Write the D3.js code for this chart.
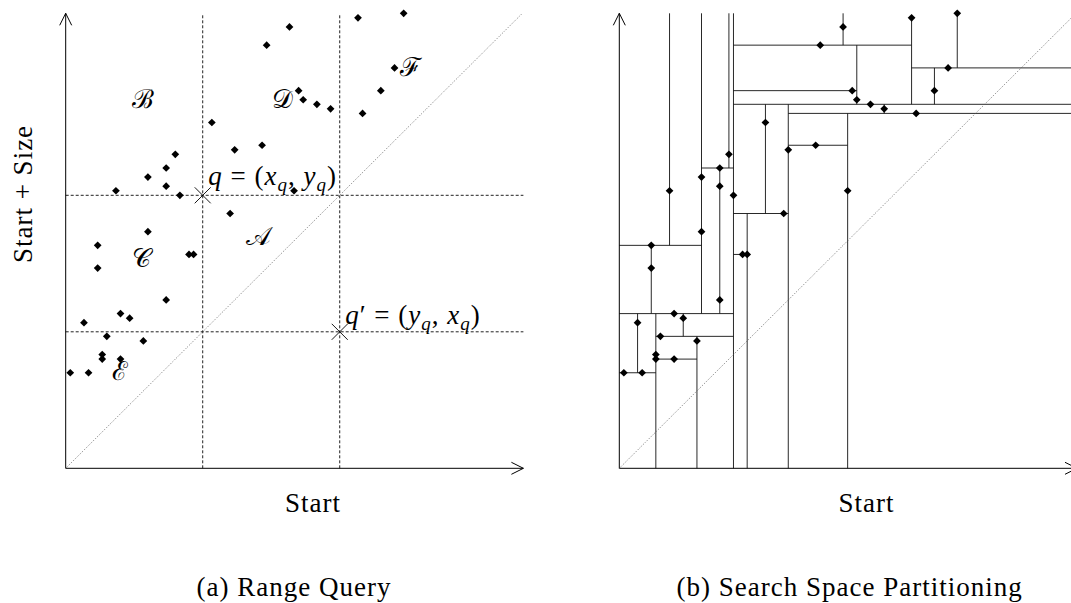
<!DOCTYPE html>
<html>
<head>
<meta charset="utf-8">
<script src="https://cdn.jsdelivr.net/npm/d3@7"></script>
<style>
  body { margin: 0; background: #fff; }
  svg text { font-family: "Liberation Serif", "DejaVu Serif", serif; fill: #000; }
</style>
</head>
<body>
<div id="chart"></div>
<script>
// intervals: Start and Start + Size
const starts = [6.4, 7.4, 4.9, 4.4, 7.2, 6.9, 6.5, 5.1, 5.2, 5.5, 5.8, 3.2, 3.7, 4.3, 2.4, 2.2, 1.8, 2.2, 1.1,
                2.5, 5.0, 3.6, 1.8, 0.7, 0.7, 2.7, 2.8, 2.2, 0.4, 1.2, 1.4, 0.9, 1.7, 0.8, 0.8, 1.2, 0.1, 0.5]
const ends = [9.9, 10.0, 9.7, 9.3, 8.8, 8.3, 7.8, 8.3, 8.1, 8.0, 7.9, 7.6, 7.0, 7.1, 6.9, 6.6, 6.4, 6.2, 6.1,
              6.0, 6.1, 5.6, 5.2, 4.9, 4.4, 4.7, 4.7, 3.7, 3.2, 3.4, 3.3, 2.9, 2.8, 2.5, 2.4, 2.4, 2.1, 2.1]

// query point q = (x_q, y_q)
const queryX = 3
const queryY = 6

// search space partitioning: [split value, from, to]
const verticalSplits = [
  [2.5, 0, 10], [1.1, 4.9, 10], [1.8, 3.4, 10], [0.7, 3.4, 4.9], [2.4, 6.6, 10], [2.2, 3.4, 6.6],
  [0.4, 2.1, 3.4], [0.8, 0, 3.4], [1.4, 2.9, 3.4], [1.7, 0, 2.9], [2.8, 0, 5.6], [3.2, 5.6, 8.0],
  [3.7, 0, 8.0], [5.0, 0, 7.8], [5.8, 7.8, 8.0], [4.9, 9.3, 10], [5.2, 8.0, 9.3], [6.4, 8.0, 9.9],
  [7.4, 8.8, 10], [6.9, 8.0, 8.8]
]
const horizontalSplits = [
  [3.4, 0, 2.5], [4.9, 0, 1.8], [6.6, 1.8, 2.5], [2.1, 0, 0.8], [2.9, 0.8, 2.5], [2.4, 0.8, 1.7],
  [4.7, 2.5, 2.8], [5.6, 2.5, 3.7], [8.0, 2.5, 10], [7.8, 3.7, 10], [7.1, 3.7, 5.0], [9.3, 2.5, 6.4],
  [8.3, 2.5, 5.2], [8.8, 6.4, 10]
]

const regionNames = ['𝒜', 'ℬ', '𝒞', '𝒟', 'ℰ', 'ℱ']

const points = starts.map((s, i) => ({ start: s, end: ends[i] }))

const width = 1071
const height = 603
const unit = 45.67

const svg = d3.select('#chart').append('svg')
  .attr('width', width)
  .attr('height', height)

const x = d3.scaleLinear().domain([0, 10]).range([65.7, 65.7 + 10 * unit])
const y = d3.scaleLinear().domain([0, 10]).range([468.3, 13.3])

const diamond = d3.symbol().type(d3.symbolSquare).size(30)

const drawAxes = g => {
  g.append('line')
    .attr('x1', x(0)).attr('y1', y(0)).attr('x2', x(10) + 1).attr('y2', y(0))
    .attr('stroke', '#000').attr('stroke-width', 1)
  g.append('path')
    .attr('d', `M${x(10) - 11},${y(0) - 6}L${x(10) + 1},${y(0)}L${x(10) - 11},${y(0) + 6}`)
    .attr('fill', 'none').attr('stroke', '#000').attr('stroke-width', 1)
  g.append('line')
    .attr('x1', x(0)).attr('y1', y(0)).attr('x2', x(0)).attr('y2', y(10))
    .attr('stroke', '#000').attr('stroke-width', 1)
  g.append('path')
    .attr('d', `M${x(0) - 6},${y(10) + 12}L${x(0)},${y(10)}L${x(0) + 6},${y(10) + 12}`)
    .attr('fill', 'none').attr('stroke', '#000').attr('stroke-width', 1)
  // Start = Start + Size
  g.append('line')
    .attr('x1', x(0)).attr('y1', y(0)).attr('x2', x(10)).attr('y2', y(10))
    .attr('stroke', '#555').attr('stroke-width', 0.8).attr('stroke-dasharray', '1,1.6')
}

const drawPoints = g => {
  g.selectAll('path.pt')
    .data(points)
    .enter()
    .append('path')
      .attr('class', 'pt')
      .attr('d', diamond)
      .attr('transform', d => `translate(${x(d.start)},${y(d.end)}) rotate(45)`)
      .attr('fill', '#000')
}

const addText = (g, str, px, py, size, anchor) => g.append('text')
  .attr('x', px).attr('y', py)
  .attr('text-anchor', anchor || 'middle')
  .style('font-size', size + 'px')
  .style('letter-spacing', '1px')
  .text(str)

const mathLabel = (g, px, py, parts) => {
  const t = g.append('text').attr('x', px).attr('y', py)
    .style('font-size', '27px')
    .style('letter-spacing', '1px')
  parts.forEach(p => {
    const s = t.append('tspan').text(p[0])
    if (p[1] === 'i') s.style('font-style', 'italic')
    if (p[1] === 'sub') s.style('font-style', 'italic').style('font-size', '19px').attr('dy', 6)
    if (p[1] === 'up') s.attr('dy', -6)
  })
  return t
}

// (a) Range Query
const left = svg.append('g')

left.selectAll('line.vq')
  .data([queryX, queryY])
  .enter()
  .append('line')
    .attr('x1', d => x(d)).attr('x2', d => x(d))
    .attr('y1', y(0)).attr('y2', y(10) + 1)
    .attr('stroke', '#222').attr('stroke-width', 1).attr('stroke-dasharray', '3,2')
left.selectAll('line.hq')
  .data([queryY, queryX])
  .enter()
  .append('line')
    .attr('y1', d => y(d)).attr('y2', d => y(d))
    .attr('x1', x(0)).attr('x2', x(10) + 1)
    .attr('stroke', '#222').attr('stroke-width', 1).attr('stroke-dasharray', '3,2')

drawAxes(left)
drawPoints(left)

left.selectAll('path.cross')
  .data([[queryX, queryY], [queryY, queryX]])
  .enter()
  .append('path')
    .attr('d', d => `M${x(d[0]) - 8},${y(d[1]) - 8}L${x(d[0]) + 8},${y(d[1]) + 8}M${x(d[0]) - 8},${y(d[1]) + 8}L${x(d[0]) + 8},${y(d[1]) - 8}`)
    .attr('stroke', '#000').attr('stroke-width', 0.9).attr('fill', 'none')

const regionAt = [[4.23, 4.9], [1.69, 7.92], [1.65, 4.42], [4.74, 7.92], [1.18, 1.94], [7.56, 8.62]]
left.selectAll('text.region')
  .data(regionNames)
  .enter()
  .append('text')
    .attr('class', 'region')
    .attr('x', (d, i) => x(regionAt[i][0]))
    .attr('y', (d, i) => y(regionAt[i][1]))
    .attr('text-anchor', 'middle')
    .style('font-size', '26px')
    .text(d => d)

mathLabel(left, x(3.12), y(6.22), [['q', 'i'], [' = (', ''], ['x', 'i'], ['q', 'sub'], [', ', 'up'], ['y', 'i'], ['q', 'sub'], [')', 'up']])
mathLabel(left, x(6.12), y(3.17), [['q', 'i'], ['′ = (', ''], ['y', 'i'], ['q', 'sub'], [', ', 'up'], ['x', 'i'], ['q', 'sub'], [')', 'up']])

addText(left, 'Start', 313, 512, 27)
addText(left, 'Start + Size', 0, 0, 27).attr('transform', 'translate(32,194) rotate(-90)')
addText(left, '(a) Range Query', 294, 596, 27)

// (b) Search Space Partitioning
const right = svg.append('g').attr('transform', 'translate(553.6,0)')

right.selectAll('line.vs')
  .data(verticalSplits)
  .enter()
  .append('line')
    .attr('x1', d => x(d[0])).attr('x2', d => x(d[0]))
    .attr('y1', d => y(d[1])).attr('y2', d => y(d[2]))
    .attr('stroke', '#111').attr('stroke-width', 0.9)
right.selectAll('line.hs')
  .data(horizontalSplits)
  .enter()
  .append('line')
    .attr('y1', d => y(d[0])).attr('y2', d => y(d[0]))
    .attr('x1', d => x(d[1])).attr('x2', d => x(d[2]))
    .attr('stroke', '#111').attr('stroke-width', 0.9)

drawAxes(right)
drawPoints(right)

addText(right, 'Start', 313, 512, 27)
addText(right, '(b) Search Space Partitioning', 296, 596, 27)
</script>
</body>
</html>
